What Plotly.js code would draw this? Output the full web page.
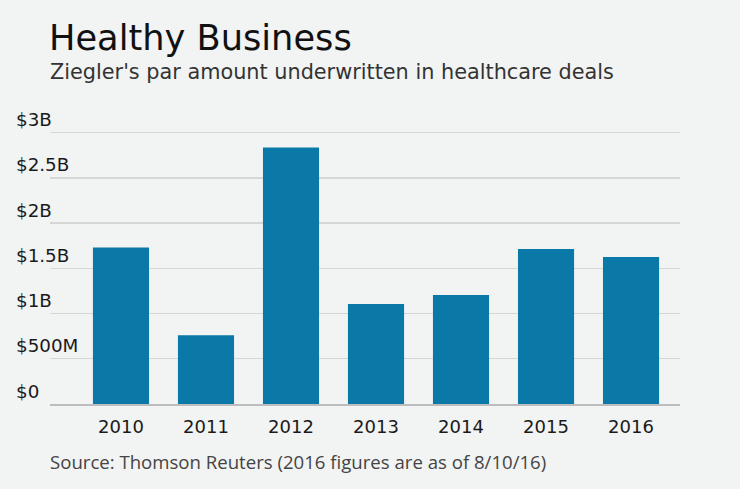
<!DOCTYPE html>
<html>
<head>
<meta charset="utf-8">
<script src="https://cdn.plot.ly/plotly-3.0.1.min.js"></script>
<style>
html,body{margin:0;padding:0;background:#f2f3f3;}
#chart{width:740px;height:489px;}
</style>
</head>
<body>
<div id="chart"></div>
<script>
const years = ['2010','2011','2012','2013','2014','2015','2016'];
const amounts = [1.73, 0.76, 2.835, 1.105, 1.205, 1.715, 1.625]; // billions USD
const yTickVals = [0, 0.5, 1, 1.5, 2, 2.5, 3];
const yTickText = ['$0', '$500M', '$1B', '$1.5B', '$2B', '$2.5B', '$3B'];
const titleText = 'Healthy Business';
const subtitleText = "Ziegler's par amount underwritten in healthcare deals";
const sourceText = 'Source: Thomson Reuters (2016 figures are as of 8/10/16)';

// pixel geometry: y=0 at 404px, 1B = 90.33px; paper x spans L..R
const W = 740, H = 489, L = 12, R = 680, B = 404;
const YMAX = 3.35;
const T = B - YMAX * 90.33;
const px = x => (x - L) / (R - L);
const py = y => (B - y) / (B - T);

const trace = {
  type: 'bar',
  x: years,
  y: amounts,
  marker: {color: '#0a79a7'},
  hoverinfo: 'skip'
};
const ghost = {
  type: 'scatter', x: [], y: [], yaxis: 'y2', xaxis: 'x', showlegend: false, hoverinfo: 'skip'
};

const layout = {
  width: W, height: H,
  paper_bgcolor: '#f2f3f3',
  plot_bgcolor: '#f2f3f3',
  margin: {l: L, r: W - R, t: T, b: H - B, pad: 0},
  showlegend: false,
  bargap: 0.34,
  font: {family: 'DejaVu Sans, Verdana, sans-serif', color: '#222'},
  xaxis: {
    domain: [px(50), 1],
    type: 'category',
    range: [-0.835, 6.576],
    showgrid: false,
    showline: true,
    linecolor: '#bdbdbd',
    linewidth: 1.5,
    ticks: '',
    tickfont: {size: 18, color: '#1a1a1a'},
    ticklabelstandoff: 6,
    fixedrange: true
  },
  yaxis: {
    range: [0, YMAX],
    tickvals: yTickVals,
    showticklabels: false,
    showgrid: true,
    gridcolor: '#d6d6d6',
    gridwidth: 1.3,
    zeroline: false,
    ticks: '',
    fixedrange: true
  },
  yaxis2: {
    overlaying: 'y',
    anchor: 'free',
    position: 0,
    side: 'left',
    range: [0, YMAX],
    tickvals: yTickVals,
    ticktext: yTickText,
    ticklabelposition: 'inside top',
    showgrid: false,
    zeroline: false,
    showline: false,
    ticks: '',
    tickfont: {size: 18.3, color: '#1a1a1a'},
    fixedrange: true
  },
  title: {
    text: titleText,
    xref: 'container', yref: 'container',
    x: 49 / W, xanchor: 'left',
    y: 1 - 38 / H, yanchor: 'middle',
    font: {family: 'DejaVu Sans, Verdana, sans-serif', size: 35.2, color: '#111'}
  },
  annotations: [
    {
      text: subtitleText, xref: 'paper', yref: 'paper',
      x: px(48), y: py(72), xanchor: 'left', yanchor: 'middle', showarrow: false,
      font: {family: 'DejaVu Sans, Verdana, sans-serif', size: 20.8, color: '#333'}
    },
    {
      text: sourceText, xref: 'paper', yref: 'paper',
      x: px(48), y: py(461), xanchor: 'left', yanchor: 'middle', showarrow: false,
      font: {family: 'Open Sans, sans-serif', size: 18.6, color: '#444'}
    }
  ]
};

Plotly.newPlot('chart', [trace, ghost], layout, {displayModeBar: false, staticPlot: true});
</script>
</body>
</html>
